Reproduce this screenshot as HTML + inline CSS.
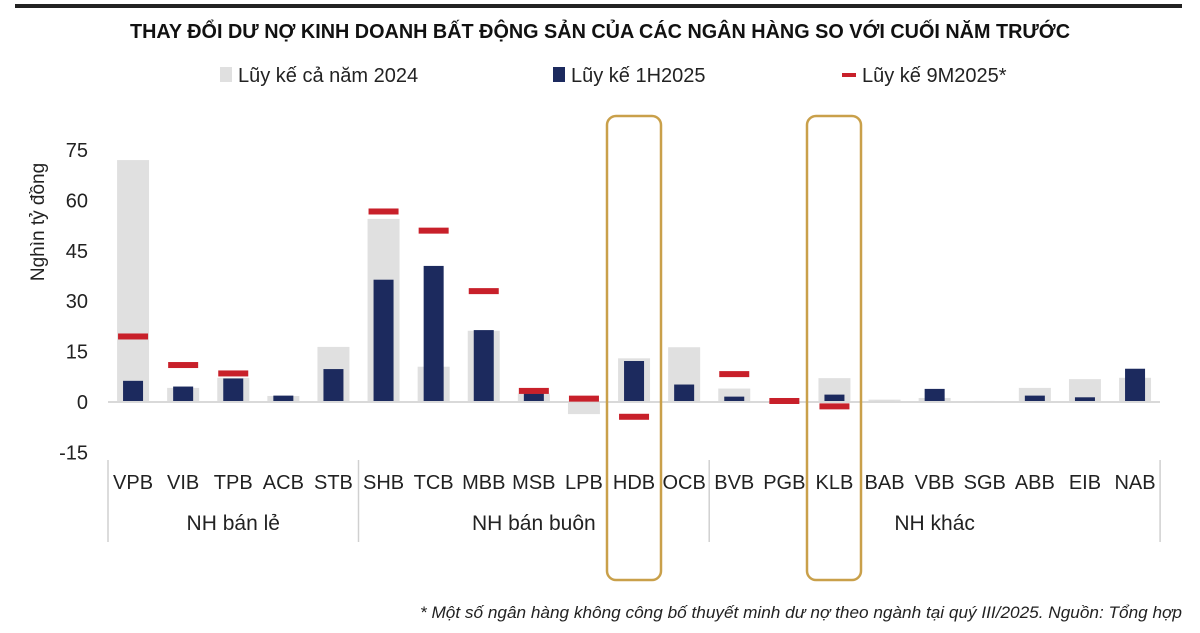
<!DOCTYPE html>
<html><head><meta charset="utf-8"><style>
html,body{margin:0;padding:0;background:#fff;}
svg{display:block;font-family:"Liberation Sans Narrow","Liberation Sans","DejaVu Sans",sans-serif;}
</style></head><body>
<svg id="chart" width="1200" height="633" viewBox="0 0 1200 633">
<rect x="15" y="4" width="1167" height="4" fill="#222"/>
<text x="600" y="38" text-anchor="middle" font-size="20" font-weight="bold" fill="#111" textLength="940" lengthAdjust="spacingAndGlyphs">THAY ĐỔI DƯ NỢ KINH DOANH BẤT ĐỘNG SẢN CỦA CÁC NGÂN HÀNG SO VỚI CUỐI NĂM TRƯỚC</text>
<g>
 <g><rect x="220" y="67" width="12" height="15" fill="#e0e0e0"/><text x="238" y="82" font-size="20" fill="#222">Lũy kế cả năm 2024</text></g>
 <g><rect x="553" y="67" width="12" height="15" fill="#1c2a5e"/><text x="571" y="82" font-size="20" fill="#222">Lũy kế 1H2025</text></g>
 <g><rect x="842" y="73" width="14" height="4" fill="#c8202a"/><text x="862" y="82" font-size="20" fill="#222">Lũy kế 9M2025*</text></g>
</g>
<text transform="translate(44,222) rotate(-90)" text-anchor="middle" font-size="19" fill="#222">Nghìn tỷ đồng</text>
<g id="yaxis"></g>
<g id="bars"></g>
<g id="xaxis"></g>
<rect x="607" y="116" width="54" height="464" rx="9" fill="none" stroke="#c9a04a" stroke-width="2.5"/>
<rect x="807" y="116" width="54" height="464" rx="9" fill="none" stroke="#c9a04a" stroke-width="2.5"/>
<text x="1182" y="618" text-anchor="end" font-size="17" font-style="italic" fill="#222" textLength="762" lengthAdjust="spacingAndGlyphs">* Một số ngân hàng không công bố thuyết minh dư nợ theo ngành tại quý III/2025. Nguồn: Tổng hợp</text>
</svg>
<script>
const categories = ["VPB","VIB","TPB","ACB","STB","SHB","TCB","MBB","MSB","LPB","HDB","OCB","BVB","PGB","KLB","BAB","VBB","SGB","ABB","EIB","NAB"];
const full2024 = [72,4.2,7.2,1.8,16.4,54.5,10.5,21.2,2.5,-3.6,13,16.3,4,0,7.1,0.7,1.2,0.3,4.2,6.8,7.2];
const h1_2025 = [6.3,4.6,7,1.9,9.8,36.4,40.5,21.4,2.5,0,12.2,5.2,1.6,0,2.2,0.3,3.9,0.3,1.9,1.4,9.9];
const m9_2025 = [19.5,11,8.5,null,null,56.7,51,33,3.3,1,-4.4,null,8.3,0.3,-1.3,null,null,null,null,null,null];
const yTicks = [75,60,45,30,15,0,-15];
const groups = [{label:"NH bán lẻ",start:0,end:4},{label:"NH bán buôn",start:5,end:11},{label:"NH khác",start:12,end:20}];

const NS="http://www.w3.org/2000/svg";
const x0=108, step=50.1;
function xc(i){return x0+step*(i+0.5);}
function y(v){return 402-(v)*252/75;}
function mk(tag,attrs,parent){const e=document.createElementNS(NS,tag);for(const k in attrs)e.setAttribute(k,attrs[k]);parent.appendChild(e);return e;}
const ya=document.getElementById('yaxis'), bars=document.getElementById('bars'), xa=document.getElementById('xaxis');
yTicks.forEach(t=>{const e=mk('text',{x:88,y:y(t)+7,'text-anchor':'end','font-size':20,fill:'#222'},ya);e.textContent=t;

});
categories.forEach((c,i)=>{
 const g=full2024[i];
 const r=mk('rect',{x:xc(i)-16,y:Math.min(y(g),y(0)),width:32,height:Math.abs(y(g)-y(0)),fill:'#e0e0e0'},bars);
 
 
 const h=h1_2025[i];
 const r2=mk('rect',{x:xc(i)-10,y:Math.min(y(h),y(0)),width:20,height:Math.abs(y(h)-y(0)),fill:'#1c2a5e'},bars);
 
 
 const t=mk('text',{x:xc(i),y:489,'text-anchor':'middle','font-size':20,fill:'#222'},xa);t.textContent=c;
 
 
});
mk('rect',{x:108,y:401,width:1052,height:2,fill:'#d9d9d9'},bars);
categories.forEach((c,i)=>{
 const m=m9_2025[i]; if(m===null) return;
 const r=mk('rect',{x:xc(i)-15,y:y(m)-3,width:30,height:6,fill:'#c8202a'},bars);
 
 
});
const seps=[0,5,12,21];
seps.forEach(s=>{const l=mk('line',{x1:x0+step*s,x2:x0+step*s,y1:460,y2:542,stroke:'#d0d0d0','stroke-width':1.5},xa);

});
groups.forEach(gp=>{const cx=(xc(gp.start)+xc(gp.end))/2;
const t=mk('text',{x:cx,y:530,'text-anchor':'middle','font-size':21,fill:'#222'},xa);t.textContent=gp.label;

});
</script>
</body></html>
